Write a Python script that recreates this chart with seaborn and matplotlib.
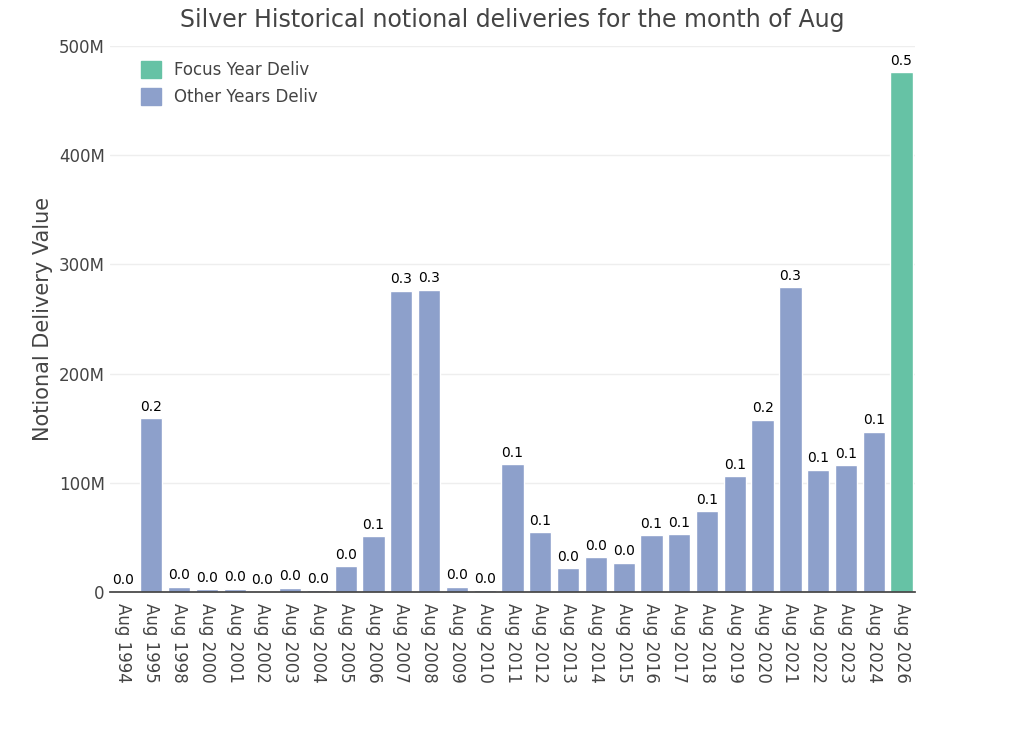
import matplotlib
matplotlib.use("Agg")
import matplotlib.pyplot as plt
import seaborn as sns
import pandas as pd
from matplotlib.ticker import FuncFormatter
from matplotlib.patches import Patch

years = ["Aug 1994","Aug 1995","Aug 1998","Aug 2000","Aug 2001","Aug 2002","Aug 2003","Aug 2004",
         "Aug 2005","Aug 2006","Aug 2007","Aug 2008","Aug 2009","Aug 2010","Aug 2011","Aug 2012",
         "Aug 2013","Aug 2014","Aug 2015","Aug 2016","Aug 2017","Aug 2018","Aug 2019","Aug 2020",
         "Aug 2021","Aug 2022","Aug 2023","Aug 2024","Aug 2026"]
values_m = [0.5,159,5,2.5,3,0.5,4,1.5,24,51,276,277,5,2,117,55,22,32,27,52,53,74,106,158,279,112,116,147,476]
groups = ["Other Years Deliv"]*28 + ["Focus Year Deliv"]

df = pd.DataFrame({"year": years, "value": [v*1e6 for v in values_m], "group": groups})
colors = {"Focus Year Deliv": "#66c2a5", "Other Years Deliv": "#8da0cb"}

sns.set_theme(style="white")
plt.rcParams['font.family'] = ['DejaVu Sans']
fig = plt.figure(figsize=(10.24, 7.31), dpi=100)
ax = fig.add_axes([0.107, 0.19, 0.787, 0.747])
sns.barplot(data=df, x="year", y="value", hue="group", palette=colors, dodge=False,
            width=0.8, ax=ax, legend=False, saturation=1)
for i, v in enumerate(df["value"]):
    ax.text(i, v + 4e6, f"{v/1e9:.1f}", ha="center", va="bottom", fontsize=10, color="black")
ax.set_ylim(0, 500e6)
ax.set_xlim(-0.5, len(years)-0.5)
ax.yaxis.set_major_formatter(FuncFormatter(lambda v, p: "0" if v == 0 else f"{int(v/1e6)}M"))
ax.set_yticks([0,100e6,200e6,300e6,400e6,500e6])
ax.grid(axis="y", color="#eeeeee", linewidth=1)
ax.set_axisbelow(True)
for s in ["top","right","left"]:
    ax.spines[s].set_visible(False)
ax.spines["bottom"].set_color("#444444")
ax.tick_params(axis="x", rotation=270, labelsize=12, colors="#444444", length=0, pad=8)
ax.tick_params(axis="y", labelsize=12, colors="#444444", length=0)
ax.set_xlabel("")
ax.set_ylabel("Notional Delivery Value", fontsize=15, color="#444444")
ax.set_title("Silver Historical notional deliveries for the month of Aug", fontsize=17, color="#444444", pad=14)
handles = [Patch(color=colors["Focus Year Deliv"], label="Focus Year Deliv"),
           Patch(color=colors["Other Years Deliv"], label="Other Years Deliv")]
ax.legend(handles=handles, loc="upper left", bbox_to_anchor=(0.02, 1.0), frameon=False,
          fontsize=12, labelcolor="#444444", handlelength=1.2, handleheight=1.2)
fig.savefig("out.png", dpi=100)
